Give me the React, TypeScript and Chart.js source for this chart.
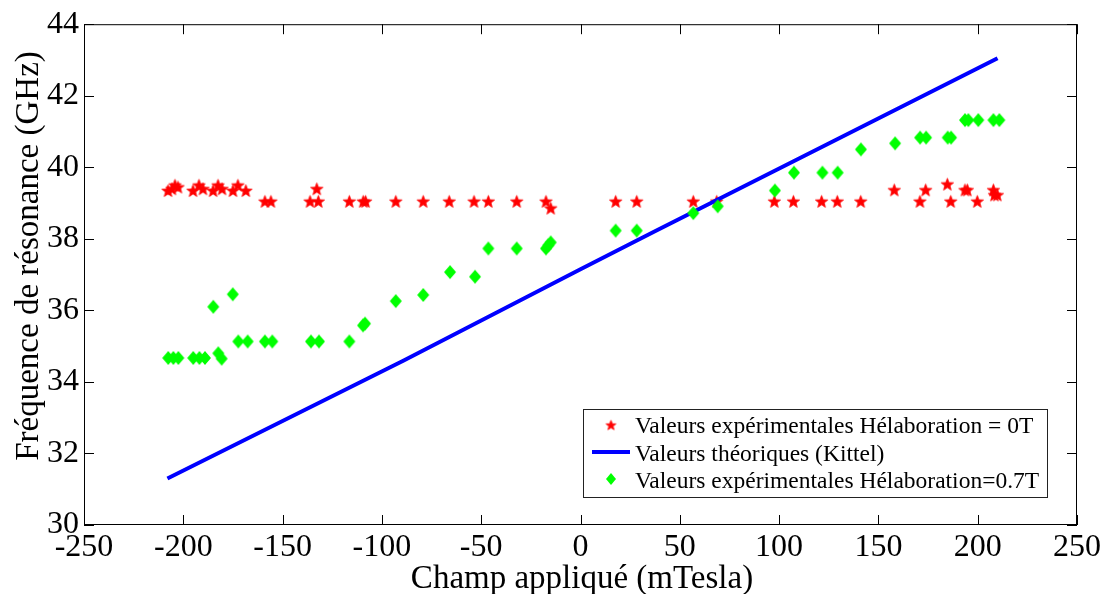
import React, { useEffect, useRef } from "react";
import { Chart, registerables } from "chart.js";

Chart.register(...registerables);

const FONT = '"Liberation Serif", "DejaVu Serif", serif';

const xTickValues = [-250, -200, -150, -100, -50, 0, 50, 100, 150, 200, 250];
const yTickValues = [30, 32, 34, 36, 38, 40, 42, 44];

const xTitle = "Champ appliqué (mTesla)";
const yTitle = "Fréquence de résonance (GHz)";
const legendLabels = [
  "Valeurs expérimentales Hélaboration = 0T",
  "Valeurs théoriques (Kittel)",
  "Valeurs expérimentales Hélaboration=0.7T",
];

// Experimental values, Hélaboration = 0T (red stars)
const redX = [
  -207.7, -205.7, -204.2, -202.7, -195.1, -192.1, -190.1, -185.0, -182.5, -180.5,
  -175.0, -172.5, -168.5, -158.9, -155.9, -136.2, -132.8, -132.0, -116.4, -109.4,
  -108.2, -93.0, -79.2, -66.1, -53.6, -46.4, -32.1, -17.4, -15.0, 17.7,
  28.3, 56.8, 68.6, 97.6, 107.2, 121.4, 129.3, 141.1, 158.0, 170.9,
  173.8, 184.7, 186.4, 193.6, 194.8, 199.8, 207.9, 208.4, 209.9,
];
const redY = [
  39.35, 39.4, 39.5, 39.45, 39.35, 39.5, 39.4, 39.35, 39.5, 39.4,
  39.35, 39.5, 39.35, 39.05, 39.05, 39.05, 39.4, 39.05, 39.05, 39.05,
  39.05, 39.05, 39.05, 39.05, 39.05, 39.05, 39.05, 39.05, 38.86, 39.05,
  39.05, 39.05, 39.05, 39.05, 39.05, 39.05, 39.05, 39.05, 39.37, 39.05,
  39.37, 39.53, 39.05, 39.37, 39.37, 39.05, 39.37, 39.23, 39.23,
];

// Theoretical values (Kittel) - blue line
const kittelX = [-208, -89, 0, 37, 210];
const kittelY = [31.3, 34.6, 37.15, 38.2, 43.05];

// Experimental values, Hélaboration = 0.7T (green diamonds)
const greenX = [
  -207.6, -205.0, -202.5, -195.0, -191.9, -189.1, -184.9, -182.4, -180.7, -175.1,
  -172.3, -167.6, -158.9, -155.2, -135.7, -131.7, -116.4, -109.5, -108.5, -93.0,
  -79.2, -65.7, -53.1, -46.4, -32.1, -17.4, -16.2, -15.0, 17.7, 28.3,
  56.8, 69.1, 97.9, 107.5, 121.8, 129.5, 141.2, 158.4, 171.0, 174.0,
  184.9, 186.6, 193.6, 195.3, 200.3, 207.9, 210.9,
];
const greenY = [
  34.67, 34.67, 34.67, 34.67, 34.67, 34.67, 36.1, 34.8, 34.65, 36.45,
  35.13, 35.13, 35.13, 35.13, 35.13, 35.13, 35.13, 35.58, 35.63, 36.26,
  36.43, 37.07, 36.94, 37.73, 37.73, 37.73, 37.82, 37.9, 38.23, 38.23,
  38.72, 38.91, 39.35, 39.85, 39.85, 39.85, 40.5, 40.67, 40.83, 40.83,
  40.83, 40.83, 41.32, 41.32, 41.32, 41.32, 41.32,
];

function makeStar(R: number, color: string): HTMLCanvasElement {
  const s = Math.ceil(R * 2 + 4);
  const c = document.createElement("canvas");
  c.width = s;
  c.height = s;
  const ctx = c.getContext("2d")!;
  const cx = s / 2;
  const cy = s / 2 + R * 0.1;
  ctx.beginPath();
  for (let i = 0; i < 10; i++) {
    const r = i % 2 === 0 ? R : R * 0.42;
    const a = -Math.PI / 2 + (i * Math.PI) / 5;
    const px = cx + r * Math.cos(a);
    const py = cy + r * Math.sin(a);
    if (i === 0) ctx.moveTo(px, py);
    else ctx.lineTo(px, py);
  }
  ctx.closePath();
  ctx.fillStyle = color;
  ctx.fill();
  ctx.strokeStyle = color;
  ctx.lineWidth = 0.8;
  ctx.stroke();
  return c;
}

function makeDiamond(hw: number, hh: number, color: string): HTMLCanvasElement {
  const c = document.createElement("canvas");
  c.width = Math.ceil(hw * 2 + 2);
  c.height = Math.ceil(hh * 2 + 2);
  const ctx = c.getContext("2d")!;
  const cx = c.width / 2;
  const cy = c.height / 2;
  ctx.beginPath();
  ctx.moveTo(cx, cy - hh);
  ctx.lineTo(cx + hw, cy);
  ctx.lineTo(cx, cy + hh);
  ctx.lineTo(cx - hw, cy);
  ctx.closePath();
  ctx.fillStyle = color;
  ctx.fill();
  return c;
}

export default function App() {
  const ref = useRef<HTMLCanvasElement>(null);

  useEffect(() => {
    let chart: any = null;
    let cancelled = false;

    const build = () => {
      if (cancelled || !ref.current) return;
      const starImg = makeStar(6.5, "#ff0000");
      const diamondImg = makeDiamond(6, 7, "#00ff00");
      const starLegend = makeStar(5.2, "#ff0000");
      const diamondLegend = makeDiamond(5, 6, "#00ff00");

      const boxPlugin = {
        id: "matlabBox",
        afterDraw(ch: any) {
          const { ctx, chartArea: a, scales } = ch;
          ctx.save();
          ctx.strokeStyle = "#000";
          ctx.lineWidth = 1;
          ctx.strokeRect(a.left + 0.5, a.top + 0.5, a.right - a.left - 1, a.bottom - a.top - 1);
          const tl = 10;
          ctx.beginPath();
          for (const v of xTickValues) {
            const px = Math.round(scales.x.getPixelForValue(v)) + 0.5;
            ctx.moveTo(px, a.bottom);
            ctx.lineTo(px, a.bottom - tl);
            ctx.moveTo(px, a.top);
            ctx.lineTo(px, a.top + tl);
          }
          for (const v of yTickValues) {
            const py = Math.round(scales.y.getPixelForValue(v)) + 0.5;
            ctx.moveTo(a.left, py);
            ctx.lineTo(a.left + tl, py);
            ctx.moveTo(a.right, py);
            ctx.lineTo(a.right - tl, py);
          }
          ctx.stroke();

          // axis titles
          ctx.fillStyle = "#000";
          ctx.font = `33px ${FONT}`;
          ctx.textAlign = "center";
          ctx.textBaseline = "alphabetic";
          ctx.fillText(xTitle, 582, 588);
          ctx.save();
          ctx.translate(38, 256);
          ctx.rotate(-Math.PI / 2);
          ctx.fillText(yTitle, 0, 0);
          ctx.restore();

          // legend
          const lx = 583, ly = 409, lw = 464, lh = 88;
          ctx.fillStyle = "#fff";
          ctx.fillRect(lx, ly, lw, lh);
          ctx.strokeStyle = "#222";
          ctx.lineWidth = 1;
          ctx.strokeRect(lx + 0.5, ly + 0.5, lw, lh);
          ctx.drawImage(starLegend, 611 - starLegend.width / 2, 425 - starLegend.height / 2);
          ctx.strokeStyle = "#0000ff";
          ctx.lineWidth = 4;
          ctx.beginPath();
          ctx.moveTo(592, 452);
          ctx.lineTo(630, 452);
          ctx.stroke();
          ctx.drawImage(diamondLegend, 611 - diamondLegend.width / 2, 479 - diamondLegend.height / 2);
          ctx.fillStyle = "#000";
          ctx.font = `23.5px ${FONT}`;
          ctx.textAlign = "left";
          ctx.fillText(legendLabels[0], 635, 433);
          ctx.fillText(legendLabels[1], 635, 461);
          ctx.fillText(legendLabels[2], 635, 488);
          ctx.restore();
        },
      };

      chart = new Chart(ref.current, {
        type: "scatter",
        data: {
          datasets: [
            {
              label: legendLabels[0],
              data: redX.map((x, i) => ({ x, y: redY[i] })),
              pointStyle: starImg as any,
              pointRadius: 6,
              showLine: false,
              order: 3,
            },
            {
              label: legendLabels[1],
              data: kittelX.map((x, i) => ({ x, y: kittelY[i] })),
              showLine: true,
              borderColor: "#0000ff",
              borderWidth: 4,
              pointRadius: 0,
              fill: false,
              order: 2,
            },
            {
              label: legendLabels[2],
              data: greenX.map((x, i) => ({ x, y: greenY[i] })),
              pointStyle: diamondImg as any,
              pointRadius: 6,
              showLine: false,
              order: 1,
            },
          ],
        },
        options: {
          responsive: false,
          animation: false,
          layout: { padding: { top: 22, right: 27, left: 0, bottom: 0 } },
          plugins: { legend: { display: false }, tooltip: { enabled: false } },
          scales: {
            x: {
              type: "linear",
              min: -250,
              max: 250,
              afterFit: (s: any) => {
                s.height = 69;
              },
              afterBuildTicks: (s: any) => {
                s.ticks = xTickValues.map((v) => ({ value: v }));
              },
              grid: { display: false, drawTicks: false },
              border: { display: false },
              ticks: {
                color: "#000",
                font: { family: FONT, size: 32 },
                padding: 3,
                maxRotation: 0,
                autoSkip: false,
              },
            },
            y: {
              type: "linear",
              min: 30,
              max: 44,
              afterFit: (s: any) => {
                s.width = 84;
              },
              afterBuildTicks: (s: any) => {
                s.ticks = yTickValues.map((v) => ({ value: v }));
              },
              grid: { display: false, drawTicks: false },
              border: { display: false },
              ticks: {
                color: "#000",
                font: { family: FONT, size: 32 },
                padding: 5,
                autoSkip: false,
              },
            },
          },
        },
        plugins: [boxPlugin],
      });
    };

    const fonts: any = (document as any).fonts;
    if (fonts && fonts.load) {
      Promise.all([
        fonts.load(`32px "Liberation Serif"`, "0123456789é"),
        fonts.load(`23.5px "Liberation Serif"`, "Valeurs"),
      ])
        .catch(() => null)
        .then(() => build());
    } else {
      build();
    }

    return () => {
      cancelled = true;
      if (chart) chart.destroy();
    };
  }, []);

  return (
    <div style={{ position: "fixed", left: 0, top: 0, width: 1104, height: 594, background: "#fff", fontFamily: FONT }}>
      <canvas ref={ref} width={1104} height={594} style={{ width: 1104, height: 594, display: "block" }} />
    </div>
  );
}
